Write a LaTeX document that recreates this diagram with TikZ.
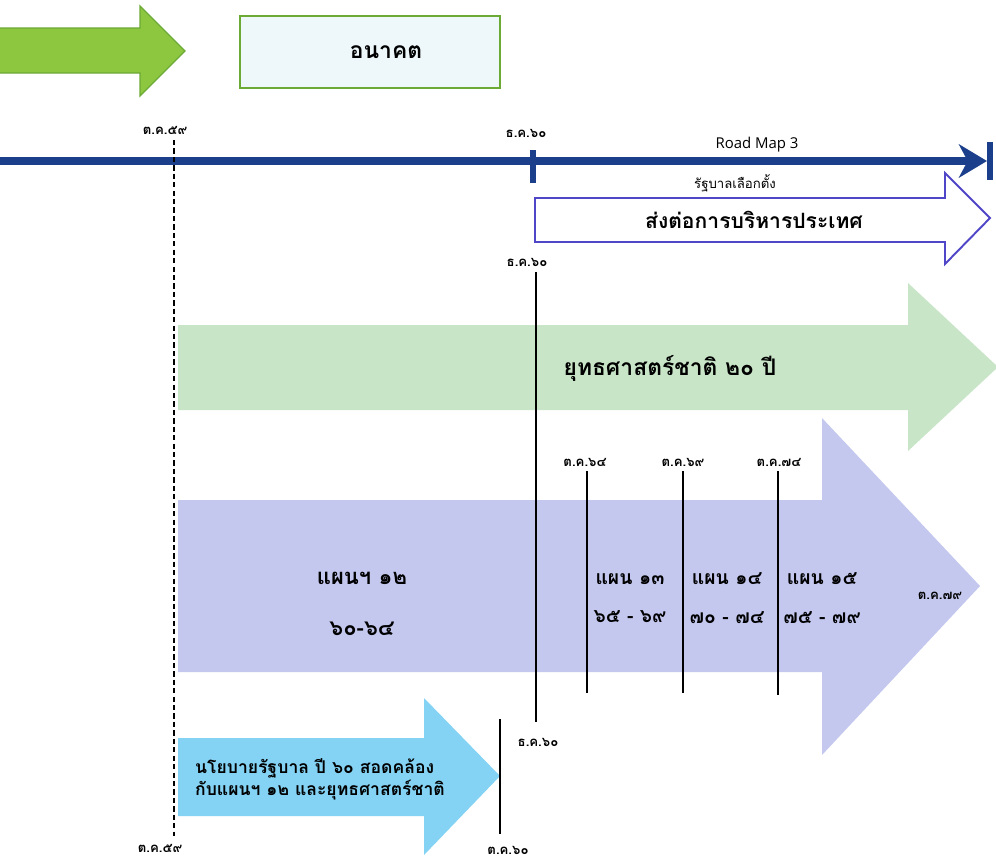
\documentclass[tikz,border=0pt]{standalone}
\usepackage{fontspec}
\usepackage{tikz}
\usetikzlibrary{arrows.meta}
\newfontfamily\thaifont[Script=Thai]{Loma}
\newfontfamily\latinfont{Open Sans}
\definecolor{leafgreen}{HTML}{8DC63F}
\definecolor{leafedge}{HTML}{6CAA36}
\definecolor{futurefill}{HTML}{EEF8FB}
\definecolor{navyline}{HTML}{1B3F8B}
\definecolor{handedge}{HTML}{5046C8}
\definecolor{stratgreen}{HTML}{C8E6C7}
\definecolor{planlav}{HTML}{C4C8EF}
\definecolor{policysky}{HTML}{84D3F4}

\begin{document}
\begin{tikzpicture}[x=0.02cm,y=-0.02cm,
  datelabel/.style={font=\thaifont\bfseries\fontsize{7.5}{8}\selectfont, inner sep=1pt},
  smalltext/.style={font=\thaifont\fontsize{7.5}{9}\selectfont, inner sep=1pt},
  bigtext/.style={font=\thaifont\bfseries\fontsize{13}{15}\selectfont},
  planlabel/.style={font=\thaifont\bfseries\fontsize{11}{22}\selectfont, align=center},
  markline/.style={black, line width=1.1pt},
  dashline/.style={black, line width=0.8pt, dash pattern=on 3pt off 1.8pt}]
\useasboundingbox (0,0) rectangle (996,862);
\fill[white] (0,0) rectangle (996,862);

% top left arrow and future box
\draw[leafedge, fill=leafgreen, line width=0.8pt] (-5,28) -- (140,28) -- (140,6) -- (185,51) -- (140,96) -- (140,73) -- (-5,73) -- cycle;
\draw[leafedge, fill=futurefill, line width=1.2pt] (240,16) rectangle (500,88);
\node[bigtext] (future) at (386,52) {อนาคต};

% time line
\coordinate (tlstart) at (-5,161);
\coordinate (tlend) at (987,161);
\draw[navyline, line width=4pt, -{Stealth[length=16pt, width=19pt, inset=5pt]}] (tlstart) -- (tlend);
\draw[navyline, line width=3pt] (990,142) -- (990,180);
\draw[navyline, line width=3pt] (533,150) -- (533,183);
\node[datelabel] (oct59top) at (165,130) {ต.ค.๕๙};
\node[datelabel] (dec60top) at (526,133) {ธ.ค.๖๐};
\node[font=\latinfont\fontsize{8.5}{9}\selectfont] (roadmap) at (757,145) {Road Map 3};
\node[smalltext] (elected) at (735,183) {รัฐบาลเลือกตั้ง};

% hand over arrow
\draw[handedge, fill=white, line width=1.1pt] (535,198) -- (945,198) -- (945,173) -- (990,218) -- (945,264) -- (945,242) -- (535,242) -- cycle;
\node[bigtext, font=\thaifont\bfseries\fontsize{12}{14}\selectfont] (handover) at (754,220) {ส่งต่อการบริหารประเทศ};

% national strategy
\fill[stratgreen] (178,325) -- (908,325) -- (908,283) -- (998,367) -- (908,451) -- (908,410) -- (178,410) -- cycle;
\node[bigtext] (strategy) at (670,368) {ยุทธศาสตร์ชาติ ๒๐ ปี};

% plans
\fill[planlav] (178,500) -- (822,500) -- (822,418) -- (980,586) -- (822,755) -- (822,672) -- (178,672) -- cycle;
\node[planlabel, font=\thaifont\bfseries\fontsize{12.5}{29}\selectfont] (plan12) at (362,604) {แผนฯ ๑๒\\๖๐-๖๔};
\node[planlabel] (plan13) at (630,598) {แผน ๑๓\\๖๕ - ๖๙};
\node[planlabel] (plan14) at (727,598) {แผน ๑๔\\๗๐ - ๗๔};
\node[planlabel] (plan15) at (822,598) {แผน ๑๕\\๗๕ - ๗๙};
\node[datelabel] (oct79) at (940,596) {ต.ค.๗๙};

% policy
\fill[policysky] (178,738) -- (424,738) -- (424,698) -- (500,776) -- (424,855) -- (424,816) -- (178,816) -- cycle;
\node[font=\thaifont\bfseries\fontsize{10}{12.5}\selectfont, align=left] (policy) at (320,779) {นโยบายรัฐบาล ปี ๖๐ สอดคล้อง\\กับแผนฯ ๑๒ และยุทธศาสตร์ชาติ};

% markers
\node[datelabel] (dec60mid) at (527,262) {ธ.ค.๖๐};
\node[datelabel] (dec60low) at (538,742) {ธ.ค.๖๐};
\coordinate (dec60a) at (536,272);
\coordinate (dec60b) at (536,722);
\draw[markline] (dec60a) -- (dec60b);

\node[datelabel] (oct64) at (585,462) {ต.ค.๖๔};
\node[datelabel] (oct69) at (683,462) {ต.ค.๖๙};
\node[datelabel] (oct74) at (779,462) {ต.ค.๗๔};
\draw[markline] (587,471) -- (587,693);
\draw[markline] (683,471) -- (683,693);
\draw[markline] (778,471) -- (778,695);

\node[datelabel] (oct60) at (508,850) {ต.ค.๖๐};
\coordinate (oct60a) at (500,719);
\coordinate (oct60b) at (500,834);
\draw[markline] (oct60a) -- (oct60b);

\node[datelabel] (oct59low) at (160,848) {ต.ค.๕๙};
\coordinate (oct59a) at (174,140);
\coordinate (oct59b) at (174,836);
\draw[dashline] (oct59a) -- (oct59b);
\end{tikzpicture}
\end{document}
